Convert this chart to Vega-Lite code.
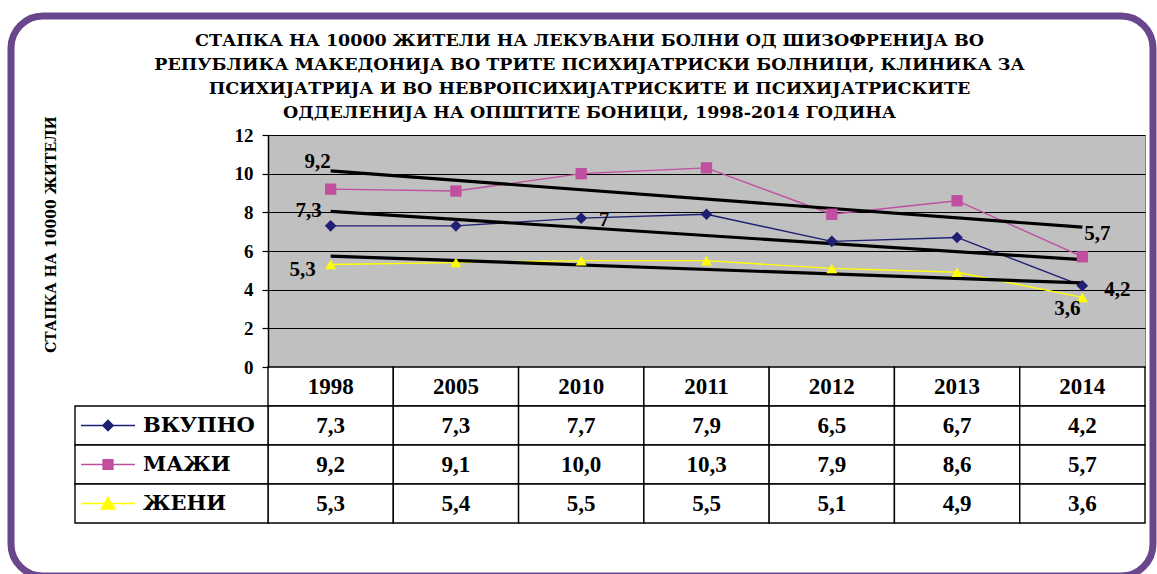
{
  "$schema": "https://vega.github.io/schema/vega-lite/v6.json",
  "width": 877,
  "height": 232,
  "autosize": {"type": "none"},
  "padding": {"left": 268, "top": 135, "right": 12, "bottom": 207},
  "background": "white",
  "view": {"fill": "#C0C0C0", "stroke": "#808080", "strokeWidth": 1},
  "config": {
    "locale": {"number": {"decimal": ",", "thousands": ".", "grouping": [3], "currency": ["", ""]}}
  },
  "title": {
    "text": [
      "СТАПКА НА 10000 ЖИТЕЛИ НА ЛЕКУВАНИ БОЛНИ ОД ШИЗОФРЕНИЈА ВО",
      "РЕПУБЛИКА МАКЕДОНИЈА ВО ТРИТЕ ПСИХИЈАТРИСКИ БОЛНИЦИ, КЛИНИКА ЗА",
      "ПСИХИЈАТРИЈА И ВО НЕВРОПСИХИЈАТРИСКИТЕ И ПСИХИЈАТРИСКИТЕ",
      "ОДДЕЛЕНИЈА НА ОПШТИТЕ БОНИЦИ, 1998-2014 ГОДИНА"
    ],
    "font": "DejaVu Serif",
    "fontSize": 17.5,
    "fontWeight": "bold",
    "color": "#000000",
    "lineHeight": 24,
    "anchor": "middle",
    "frame": "group",
    "dx": -117,
    "dy": 123,
    "offset": 14
  },
  "datasets": {
    "main": [
      {"series": "ВКУПНО", "year": "1998", "value": 7.3},
      {"series": "ВКУПНО", "year": "2005", "value": 7.3},
      {"series": "ВКУПНО", "year": "2010", "value": 7.7},
      {"series": "ВКУПНО", "year": "2011", "value": 7.9},
      {"series": "ВКУПНО", "year": "2012", "value": 6.5},
      {"series": "ВКУПНО", "year": "2013", "value": 6.7},
      {"series": "ВКУПНО", "year": "2014", "value": 4.2},
      {"series": "МАЖИ", "year": "1998", "value": 9.2},
      {"series": "МАЖИ", "year": "2005", "value": 9.1},
      {"series": "МАЖИ", "year": "2010", "value": 10.0},
      {"series": "МАЖИ", "year": "2011", "value": 10.3},
      {"series": "МАЖИ", "year": "2012", "value": 7.9},
      {"series": "МАЖИ", "year": "2013", "value": 8.6},
      {"series": "МАЖИ", "year": "2014", "value": 5.7},
      {"series": "ЖЕНИ", "year": "1998", "value": 5.3},
      {"series": "ЖЕНИ", "year": "2005", "value": 5.4},
      {"series": "ЖЕНИ", "year": "2010", "value": 5.5},
      {"series": "ЖЕНИ", "year": "2011", "value": 5.5},
      {"series": "ЖЕНИ", "year": "2012", "value": 5.1},
      {"series": "ЖЕНИ", "year": "2013", "value": 4.9},
      {"series": "ЖЕНИ", "year": "2014", "value": 3.6}
    ],
    "trend": [
      {"series": "ВКУПНО", "year": "1998", "value": 8.05},
      {"series": "ВКУПНО", "year": "2014", "value": 5.55},
      {"series": "МАЖИ", "year": "1998", "value": 10.14},
      {"series": "МАЖИ", "year": "2014", "value": 7.23},
      {"series": "ЖЕНИ", "year": "1998", "value": 5.74},
      {"series": "ЖЕНИ", "year": "2014", "value": 4.35}
    ],
    "years": [
      {"year": "1998"}, {"year": "2005"}, {"year": "2010"}, {"year": "2011"},
      {"year": "2012"}, {"year": "2013"}, {"year": "2014"}
    ],
    "labels": [
      {"series": "МАЖИ", "year": "1998", "value": 9.2, "text": "9,2"},
      {"series": "ВКУПНО", "year": "1998", "value": 7.3, "text": "7,3"},
      {"series": "ЖЕНИ", "year": "1998", "value": 5.3, "text": "5,3"},
      {"series": "ВКУПНО", "year": "2010", "value": 7.7, "text": "7"},
      {"series": "МАЖИ", "year": "2014", "value": 5.7, "text": "5,7"},
      {"series": "ВКУПНО", "year": "2014", "value": 4.2, "text": "4,2"},
      {"series": "ЖЕНИ", "year": "2014", "value": 3.6, "text": "3,6"}
    ]
  },
  "resolve": {"scale": {"x": "independent", "y": "independent"}},
  "layer": [
    {
      "data": {"values": [{}]},
      "mark": {"type": "rect", "filled": false, "stroke": "#6A478C", "strokeWidth": 7, "cornerRadius": 32},
      "encoding": {
        "x": {"datum": 0, "type": "quantitative", "scale": {"domain": [0, 1], "range": [-257, 885], "nice": false, "zero": false}, "axis": null},
        "x2": {"datum": 1},
        "y": {"datum": 0, "type": "quantitative", "scale": {"domain": [0, 1], "range": [-119, 441], "nice": false, "zero": false}, "axis": null},
        "y2": {"datum": 1}
      }
    },
    {
      "encoding": {
        "x": {"field": "year", "type": "ordinal", "bandPosition": 0.5, "scale": {"type": "band", "domain": ["1998", "2005", "2010", "2011", "2012", "2013", "2014"], "paddingInner": 0, "paddingOuter": 0}, "axis": null},
        "y": {"field": "value", "type": "quantitative", "scale": {"domain": [0, 12], "nice": false},
          "axis": {"values": [0, 2, 4, 6, 8, 10, 12], "tickCount": 7, "labelOverlap": false, "grid": true, "gridColor": "#000000", "gridWidth": 1, "gridOpacity": 1,
            "domainColor": "#000000", "domainWidth": 1.5, "tickColor": "#000000", "tickSize": 6, "tickWidth": 1.2,
            "labelFont": "Liberation Serif", "labelFontWeight": "bold", "labelFontSize": 19, "labelColor": "#000000", "labelPadding": 9,
            "title": "СТАПКА НА 10000 ЖИТЕЛИ", "titleFont": "DejaVu Serif", "titleFontWeight": "bold", "titleFontSize": 14, "titleColor": "#000000",
            "titleAngle": -90, "titleX": -217, "titleY": 99, "titleAlign": "center", "titleBaseline": "middle"}}
      },
      "layer": [
        {
          "data": {"name": "main"},
          "mark": {"type": "line", "strokeWidth": 1.4},
          "encoding": {
            "color": {"field": "series", "type": "nominal", "scale": {"domain": ["ВКУПНО", "МАЖИ", "ЖЕНИ"], "range": ["#1F1F73", "#C04FA0", "#FFFF00"]}, "legend": null}
          }
        },
        {
          "data": {"name": "trend"},
          "mark": {"type": "line", "color": "#000000", "strokeWidth": 3.2},
          "encoding": {
            "detail": {"field": "series", "type": "nominal"}
          }
        },
        {
          "data": {"name": "main"},
          "mark": {"type": "point", "filled": true, "opacity": 1},
          "encoding": {
            "color": {"field": "series", "type": "nominal", "scale": {"domain": ["ВКУПНО", "МАЖИ", "ЖЕНИ"], "range": ["#1F1F73", "#C04FA0", "#FFFF00"]}, "legend": null},
            "shape": {"field": "series", "type": "nominal", "scale": {"domain": ["ВКУПНО", "МАЖИ", "ЖЕНИ"], "range": ["diamond", "square", "triangle-up"]}, "legend": null},
            "size": {"field": "series", "type": "nominal", "scale": {"domain": ["ВКУПНО", "МАЖИ", "ЖЕНИ"], "range": [135, 121, 185]}, "legend": null}
          }
        },
        {
          "data": {"name": "labels"},
          "transform": [{"filter": "datum.text === '9,2'"}],
          "mark": {"type": "text", "font": "Liberation Serif", "fontWeight": "bold", "fontSize": 21, "color": "#000000", "align": "center", "baseline": "middle", "dx": -13, "dy": -27},
          "encoding": {"text": {"field": "text"}}
        },
        {
          "data": {"name": "labels"},
          "transform": [{"filter": "datum.text === '7,3'"}],
          "mark": {"type": "text", "font": "Liberation Serif", "fontWeight": "bold", "fontSize": 21, "color": "#000000", "align": "center", "baseline": "middle", "dx": -22, "dy": -15},
          "encoding": {"text": {"field": "text"}}
        },
        {
          "data": {"name": "labels"},
          "transform": [{"filter": "datum.text === '5,3'"}],
          "mark": {"type": "text", "font": "Liberation Serif", "fontWeight": "bold", "fontSize": 21, "color": "#000000", "align": "center", "baseline": "middle", "dx": -28, "dy": 5},
          "encoding": {"text": {"field": "text"}}
        },
        {
          "data": {"name": "labels"},
          "transform": [{"filter": "datum.text === '7'"}],
          "mark": {"type": "text", "font": "Liberation Serif", "fontWeight": "bold", "fontSize": 21, "color": "#000000", "align": "center", "baseline": "middle", "dx": 23, "dy": 2},
          "encoding": {"text": {"field": "text"}}
        },
        {
          "data": {"name": "labels"},
          "transform": [{"filter": "datum.text === '5,7'"}],
          "mark": {"type": "text", "font": "Liberation Serif", "fontWeight": "bold", "fontSize": 21, "color": "#000000", "align": "center", "baseline": "middle", "dx": 15, "dy": -23},
          "encoding": {"text": {"field": "text"}}
        },
        {
          "data": {"name": "labels"},
          "transform": [{"filter": "datum.text === '4,2'"}],
          "mark": {"type": "text", "font": "Liberation Serif", "fontWeight": "bold", "fontSize": 21, "color": "#000000", "align": "center", "baseline": "middle", "dx": 35, "dy": 4},
          "encoding": {"text": {"field": "text"}}
        },
        {
          "data": {"name": "labels"},
          "transform": [{"filter": "datum.text === '3,6'"}],
          "mark": {"type": "text", "font": "Liberation Serif", "fontWeight": "bold", "fontSize": 21, "color": "#000000", "align": "center", "baseline": "middle", "dx": -15, "dy": 12},
          "encoding": {"text": {"field": "text"}}
        }
      ]
    },
    {
      "layer": [
        {
          "data": {"name": "years"},
          "mark": {"type": "rect", "fill": "#FFFFFF", "stroke": "#000000", "strokeWidth": 1.4},
          "encoding": {
            "x": {"field": "year", "type": "ordinal", "scale": {"type": "band", "domain": ["1998", "2005", "2010", "2011", "2012", "2013", "2014"], "paddingInner": 0, "paddingOuter": 0}, "axis": null},
            "y": {"datum": "hdr", "type": "nominal", "scale": {"type": "band", "domain": ["hdr", "ВКУПНО", "МАЖИ", "ЖЕНИ"], "range": [232, 388], "paddingInner": 0, "paddingOuter": 0}, "axis": null}
          }
        },
        {
          "data": {"name": "main"},
          "mark": {"type": "rect", "fill": "#FFFFFF", "stroke": "#000000", "strokeWidth": 1.4},
          "encoding": {
            "x": {"field": "year", "type": "ordinal", "scale": {"type": "band", "domain": ["1998", "2005", "2010", "2011", "2012", "2013", "2014"], "paddingInner": 0, "paddingOuter": 0}, "axis": null},
            "y": {"field": "series", "type": "nominal", "scale": {"type": "band", "domain": ["hdr", "ВКУПНО", "МАЖИ", "ЖЕНИ"], "range": [232, 388], "paddingInner": 0, "paddingOuter": 0}, "axis": null}
          }
        },
        {
          "data": {"name": "years"},
          "mark": {"type": "text", "font": "Liberation Serif", "fontWeight": "bold", "fontSize": 23, "color": "#000000", "align": "center", "baseline": "middle"},
          "encoding": {
            "x": {"field": "year", "type": "ordinal", "bandPosition": 0.5, "scale": {"type": "band", "domain": ["1998", "2005", "2010", "2011", "2012", "2013", "2014"], "paddingInner": 0, "paddingOuter": 0}, "axis": null},
            "y": {"datum": "hdr", "type": "nominal", "bandPosition": 0.5, "scale": {"type": "band", "domain": ["hdr", "ВКУПНО", "МАЖИ", "ЖЕНИ"], "range": [232, 388], "paddingInner": 0, "paddingOuter": 0}, "axis": null},
            "text": {"field": "year"}
          }
        },
        {
          "data": {"name": "main"},
          "mark": {"type": "text", "font": "Liberation Serif", "fontWeight": "bold", "fontSize": 23, "color": "#000000", "align": "center", "baseline": "middle"},
          "encoding": {
            "x": {"field": "year", "type": "ordinal", "bandPosition": 0.5, "scale": {"type": "band", "domain": ["1998", "2005", "2010", "2011", "2012", "2013", "2014"], "paddingInner": 0, "paddingOuter": 0}, "axis": null},
            "y": {"field": "series", "type": "nominal", "bandPosition": 0.5, "scale": {"type": "band", "domain": ["hdr", "ВКУПНО", "МАЖИ", "ЖЕНИ"], "range": [232, 388], "paddingInner": 0, "paddingOuter": 0}, "axis": null},
            "text": {"field": "value", "type": "quantitative", "format": ".1f"}
          }
        }
      ]
    },
    {
      "layer": [
        {
          "data": {"name": "main"},
          "transform": [{"filter": "datum.year === '1998'"}],
          "mark": {"type": "rect", "fill": "#FFFFFF", "stroke": "#000000", "strokeWidth": 1.4},
          "encoding": {
            "x": {"datum": "leg", "type": "nominal", "scale": {"type": "band", "domain": ["leg"], "range": [-193, 0], "paddingInner": 0, "paddingOuter": 0}, "axis": null},
            "y": {"field": "series", "type": "nominal", "scale": {"type": "band", "domain": ["hdr", "ВКУПНО", "МАЖИ", "ЖЕНИ"], "range": [232, 388], "paddingInner": 0, "paddingOuter": 0}, "axis": null}
          }
        },
        {
          "data": {"name": "main"},
          "transform": [{"filter": "datum.year === '1998' && datum.series === 'ВКУПНО'"}],
          "mark": {"type": "point", "shape": "M-1,0H1M0,-0.19L0.19,0L0,0.19L-0.19,0Z", "size": 2916, "filled": true, "fill": "#1F1F73", "stroke": "#1F1F73", "strokeWidth": 1.5, "opacity": 1},
          "encoding": {
            "x": {"datum": "leg", "type": "nominal", "bandPosition": 0.171, "scale": {"type": "band", "domain": ["leg"], "range": [-193, 0], "paddingInner": 0, "paddingOuter": 0}, "axis": null},
            "y": {"field": "series", "type": "nominal", "bandPosition": 0.5, "scale": {"type": "band", "domain": ["hdr", "ВКУПНО", "МАЖИ", "ЖЕНИ"], "range": [232, 388], "paddingInner": 0, "paddingOuter": 0}, "axis": null}
          }
        },
        {
          "data": {"name": "main"},
          "transform": [{"filter": "datum.year === '1998' && datum.series === 'МАЖИ'"}],
          "mark": {"type": "point", "shape": "M-1,0H1M-0.18,-0.18H0.18V0.18H-0.18Z", "size": 2916, "filled": true, "fill": "#C04FA0", "stroke": "#C04FA0", "strokeWidth": 1.5, "opacity": 1},
          "encoding": {
            "x": {"datum": "leg", "type": "nominal", "bandPosition": 0.171, "scale": {"type": "band", "domain": ["leg"], "range": [-193, 0], "paddingInner": 0, "paddingOuter": 0}, "axis": null},
            "y": {"field": "series", "type": "nominal", "bandPosition": 0.5, "scale": {"type": "band", "domain": ["hdr", "ВКУПНО", "МАЖИ", "ЖЕНИ"], "range": [232, 388], "paddingInner": 0, "paddingOuter": 0}, "axis": null}
          }
        },
        {
          "data": {"name": "main"},
          "transform": [{"filter": "datum.year === '1998' && datum.series === 'ЖЕНИ'"}],
          "mark": {"type": "point", "shape": "M-1,0H1M0,-0.22L0.25,0.2H-0.25Z", "size": 2916, "filled": true, "fill": "#FFFF00", "stroke": "#FFFF00", "strokeWidth": 1.5, "opacity": 1},
          "encoding": {
            "x": {"datum": "leg", "type": "nominal", "bandPosition": 0.171, "scale": {"type": "band", "domain": ["leg"], "range": [-193, 0], "paddingInner": 0, "paddingOuter": 0}, "axis": null},
            "y": {"field": "series", "type": "nominal", "bandPosition": 0.5, "scale": {"type": "band", "domain": ["hdr", "ВКУПНО", "МАЖИ", "ЖЕНИ"], "range": [232, 388], "paddingInner": 0, "paddingOuter": 0}, "axis": null}
          }
        },
        {
          "data": {"name": "main"},
          "transform": [{"filter": "datum.year === '1998'"}],
          "mark": {"type": "text", "font": "DejaVu Serif", "fontWeight": "bold", "fontSize": 21, "color": "#000000", "align": "left", "baseline": "middle"},
          "encoding": {
            "x": {"datum": "leg", "type": "nominal", "bandPosition": 0.352, "scale": {"type": "band", "domain": ["leg"], "range": [-193, 0], "paddingInner": 0, "paddingOuter": 0}, "axis": null},
            "y": {"field": "series", "type": "nominal", "bandPosition": 0.5, "scale": {"type": "band", "domain": ["hdr", "ВКУПНО", "МАЖИ", "ЖЕНИ"], "range": [232, 388], "paddingInner": 0, "paddingOuter": 0}, "axis": null},
            "text": {"field": "series"}
          }
        }
      ]
    }
  ]
}
